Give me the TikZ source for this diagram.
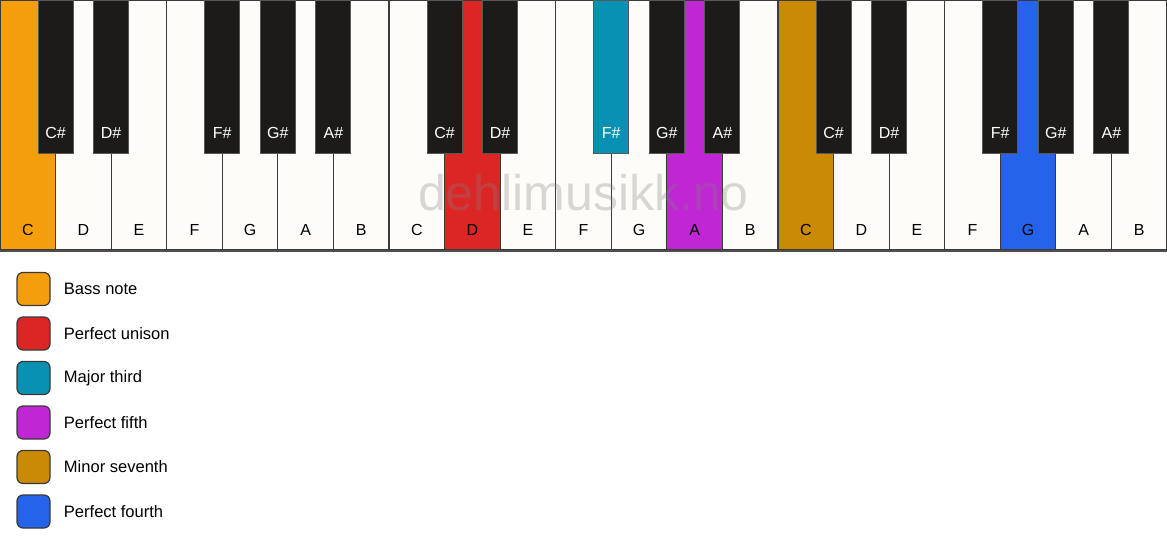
\documentclass[tikz,border=0pt]{standalone}
\usepackage{fontspec}
\setmainfont{Liberation Sans}
\usetikzlibrary{positioning}
\definecolor{bass}{HTML}{F59E0B}
\definecolor{unison}{HTML}{DC2626}
\definecolor{third}{HTML}{0891B2}
\definecolor{fifth}{HTML}{C026D3}
\definecolor{seventh}{HTML}{CA8A04}
\definecolor{fourth}{HTML}{2563EB}
\definecolor{ivory}{HTML}{FDFCF8}
\definecolor{ebony}{HTML}{1C1B19}
\definecolor{rim}{HTML}{3A3A3A}
\tikzset{
  whitekey/.style={draw=rim, line width=0.9pt, minimum width=41.68pt, minimum height=187.5pt, inner sep=0pt},
  blackkey/.style={draw=rim!85, line width=0.75pt, minimum width=26.25pt, minimum height=114.75pt, inner sep=0pt},
  whitename/.style={font=\fontsize{12}{14}\selectfont, text=black},
  blackname/.style={font=\fontsize{12}{14}\selectfont, text=white},
  legendbox/.style={draw=rim, line width=0.9pt, rounded corners=4.5pt, minimum size=24.75pt, inner sep=0pt},
  legendtext/.style={font=\fontsize{12.4}{14}\selectfont, inner sep=0pt}
}
\begin{document}
\begin{tikzpicture}[x=0.75pt, y=-0.75pt]
\useasboundingbox (0,0) rectangle (1167,550);
%% white keys
  \foreach \n/\c [count=\i from 0] in {C/bass,D/ivory,E/ivory,F/ivory,G/ivory,A/ivory,B/ivory,
      C/ivory,D/unison,E/ivory,F/ivory,G/ivory,A/fifth,B/ivory,
      C/seventh,D/ivory,E/ivory,F/ivory,G/fourth,A/ivory,B/ivory} {
    \node[whitekey, fill=\c] (w\i) at ({(\i+0.5)*55.571}, 125) {};
    \node[whitename] (n\i) at ({(\i+0.5)*55.571}, 230) {\n};
  }
  \draw[rim!90, line width=1.5pt] (w0.south west) -- (w20.south east);
%% watermark
  \node[font=\fontsize{37.5}{40}\selectfont, text=gray, text opacity=0.3] (mark) at (583.5, 193) {dehlimusikk.no};
%% black keys
  \foreach \x/\n/\c in {1/C\#/ebony, 2/D\#/ebony, 4/F\#/ebony, 5/G\#/ebony, 6/A\#/ebony,
      8/C\#/ebony, 9/D\#/ebony, 11/F\#/third, 12/G\#/ebony, 13/A\#/ebony,
      15/C\#/ebony, 16/D\#/ebony, 18/F\#/ebony, 19/G\#/ebony, 20/A\#/ebony} {
    \node[blackkey, fill=\c] (b\x) at ({\x*55.571}, 76.5) {};
    \node[blackname] (m\x) at ({\x*55.571}, 133) {\n};
  }
%% legend
  \foreach \c/\t [count=\j from 0] in {bass/Bass note, unison/Perfect unison, third/Major third,
      fifth/Perfect fifth, seventh/Minor seventh, fourth/Perfect fourth} {
    \node[legendbox, fill=\c] (k\j) at (33.5, {289+44.5*\j}) {};
    \node[legendtext, right=9.8pt of k\j] (t\j) {\t};
  }
\end{tikzpicture}
\end{document}
